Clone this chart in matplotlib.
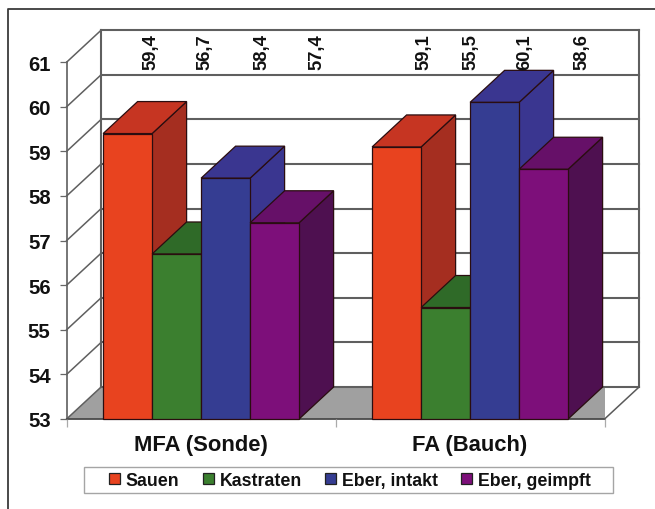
import matplotlib
matplotlib.use("Agg")
import matplotlib.pyplot as plt
from matplotlib.lines import Line2D
from matplotlib.patches import Polygon, Rectangle

plt.rcParams['font.family'] = ['Liberation Sans', 'DejaVu Sans']

categories = ["MFA (Sonde)", "FA (Bauch)"]
series_names = ["Sauen", "Kastraten", "Eber, intakt", "Eber, geimpft"]
sauen = [59.4, 59.1]
kastraten = [56.7, 55.5]
eber_intakt = [58.4, 60.1]
eber_geimpft = [57.4, 58.6]
value_labels = [["59,4", "56,7", "58,4", "57,4"], ["59,1", "55,5", "60,1", "58,6"]]
y_ticks = [53, 54, 55, 56, 57, 58, 59, 60, 61]

W, H = 655, 510
front_col = ["#E8431F", "#3B7F2F", "#353D92", "#7D0F7A"]
top_col = ["#C63522", "#2F6A28", "#3A3690", "#661068"]
side_col = ["#A52E20", "#2B5A24", "#3A3690", "#4E1050"]
# horizontal shift of each rotated value label, in category units
label_shift = [[0.086, 0.107, 0.137, 0.158], [0.101, 0.095, 0.111, 0.141]]

fig = plt.figure(figsize=(W / 100, H / 100), dpi=100, facecolor="white")
ax = fig.add_axes([66.6 / W, 1 - 420 / H, 538 / W, 356.8 / H])
ax.set_xlim(0, 2)
ax.set_ylim(53, 61)
ax.patch.set_visible(False)
for s in ax.spines.values():
    s.set_visible(False)

# oblique depth of the pseudo-3D view, in data units
dx, dy = 34.5 / 269, 32 / 44.6
bar_w = 49 / 269
ymin, ymax = 53, 61

# floor
ax.add_patch(Polygon([(0, ymin), (2, ymin), (2 + dx, ymin + dy), (dx, ymin + dy)],
                     fc="#A0A0A0", ec="none", zorder=1))
ax.plot([0, 2], [ymin, ymin], color="#4a4a4a", lw=1.3, zorder=1.5, clip_on=False)
ax.plot([2, 2 + dx], [ymin, ymin + dy], color="#5a5a5a", lw=1.1, zorder=1.5, clip_on=False)

# back wall grid and side wall diagonals
for v in y_ticks:
    ax.plot([dx, 2 + dx], [v + dy, v + dy], color="#5f5f5f", lw=1.5, zorder=1.2, clip_on=False)
    ax.plot([0, dx], [v, v + dy], color="#5f5f5f", lw=1.1, zorder=1.2, clip_on=False)
ax.plot([0, 0], [ymin, ymax], color="#5f5f5f", lw=1.2, zorder=1.2, clip_on=False)
ax.plot([dx, dx], [ymin + dy, ymax + dy], color="#5f5f5f", lw=1.5, zorder=1.2, clip_on=False)
ax.plot([2 + dx, 2 + dx], [ymin + dy, ymax + dy], color="#5f5f5f", lw=1.5, zorder=1.2, clip_on=False)

# boxes, painted left to right so nearer faces overlap correctly
all_series = [sauen, kastraten, eber_intakt, eber_geimpft]
z = 2.0
for c in range(len(categories)):
    left = c + 0.5 - 2 * bar_w
    for i, vals in enumerate(all_series):
        v = vals[c]
        x0, x1 = left + i * bar_w, left + (i + 1) * bar_w
        ec = "#2a0d10"
        ax.add_patch(Polygon([(x1, ymin), (x1 + dx, ymin + dy), (x1 + dx, v + dy), (x1, v)],
                             fc=side_col[i], ec=ec, lw=0.9, zorder=z, clip_on=False))
        ax.add_patch(Polygon([(x0, v), (x1, v), (x1 + dx, v + dy), (x0 + dx, v + dy)],
                             fc=top_col[i], ec=ec, lw=0.9, zorder=z + 0.1, clip_on=False))
        ax.bar(x0, v - ymin, bar_w, bottom=ymin, align="edge", color=front_col[i],
               edgecolor=ec, linewidth=0.9, zorder=z + 0.2, clip_on=False)
        z += 1
        ax.text(x0 + bar_w / 2 + label_shift[c][i], 60.84, value_labels[c][i], rotation=90,
                ha="center", va="bottom", fontsize=13.2, fontweight="bold",
                color="#111111", zorder=50, clip_on=False)

# axes ticks and labels
ax.set_yticks(y_ticks)
ax.set_yticklabels([str(t) for t in y_ticks], fontsize=14.6, fontweight="bold", color="#111111")
ax.tick_params(axis="y", length=5, width=0.9, color="#666666", pad=6.5)
ax.set_xticks([0, 1, 2])
ax.set_xticklabels([])
ax.tick_params(axis="x", which="major", length=6, width=0.9, color="#aaaaaa")
ax.set_xticks([0.5, 1.5], minor=True)
ax.set_xticklabels(categories, minor=True, fontsize=15.8, fontweight="bold", color="#111111")
ax.tick_params(axis="x", which="minor", length=0, pad=11)

# legend: entries plus a wider rectangular frame behind them
fig.add_artist(Rectangle((84.5 / W, 1 - 494 / H), 528 / W, 26 / H, fc="white", ec="#a5a5a5", lw=1.0,
                         transform=fig.transFigure))
handles = [Rectangle((0, 0), 1, 1, fc=col, ec="#222222", lw=0.9) for col in front_col]
leg = fig.legend(handles, series_names, loc="center", ncol=4,
                 bbox_to_anchor=(350 / W, 1 - 481.5 / H), frameon=False,
                 prop={"size": 12.8, "weight": "bold"},
                 handlelength=0.62, handleheight=0.6, handletextpad=0.34,
                 columnspacing=1.3, borderpad=0, borderaxespad=0)
for t in leg.get_texts():
    t.set_color("#111111")

# outer frame: only top and left rules are inside the canvas
fig.add_artist(Line2D([7.5 / W, 7.5 / W, 1], [0, 1 - 10 / H, 1 - 10 / H],
                      color="#3a3a3a", lw=1.3))

fig.savefig("out.png", dpi=100)
